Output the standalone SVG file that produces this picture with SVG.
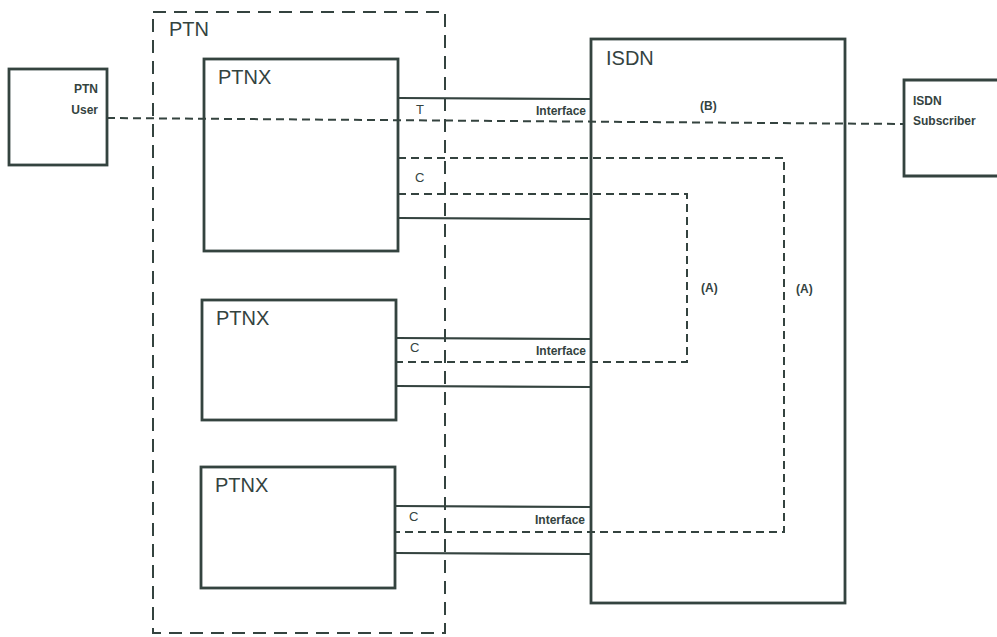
<svg xmlns="http://www.w3.org/2000/svg" width="997" height="637" viewBox="0 0 997 637">
<style>
.box{fill:none;stroke:#34433f;stroke-width:2.8}
.ln{fill:none;stroke:#34433f;stroke-width:2.2}
.dash{fill:none;stroke:#34433f;stroke-width:2;stroke-dasharray:8 5}
.bnd{fill:none;stroke:#34433f;stroke-width:2;stroke-dasharray:13 8}
text{font-family:"Liberation Sans",Arial,sans-serif;fill:#34433f}
.big{font-size:20px}
.sm{font-size:12px;font-weight:bold}
.lbl{font-size:13px}
</style>
<rect width="997" height="637" fill="#ffffff"/>
<g id="ptn">
<rect class="bnd" x="153" y="12" width="292" height="621"/>
<text class="big" x="169" y="36">PTN</text>
</g>
<g id="ptn-user">
<rect class="box" x="9" y="69" width="98" height="96"/>
<text class="sm" x="98" y="93" text-anchor="end">PTN</text>
<text class="sm" x="98" y="114" text-anchor="end">User</text>
</g>
<g id="ptnx1">
<rect class="box" x="204" y="59" width="194" height="192"/>
<text class="big" x="218" y="84">PTNX</text>
</g>
<g id="ptnx2">
<rect class="box" x="202" y="300" width="194" height="120"/>
<text class="big" x="216" y="325">PTNX</text>
</g>
<g id="ptnx3">
<rect class="box" x="201" y="467" width="194" height="121"/>
<text class="big" x="215" y="492">PTNX</text>
</g>
<g id="isdn">
<rect class="box" x="591" y="39" width="254" height="564"/>
<text class="big" x="606" y="65">ISDN</text>
</g>
<g id="isdn-subscriber">
<path class="box" d="M999 80 H904 V176 H999"/>
<text class="sm" x="913" y="105">ISDN</text>
<text class="sm" x="913" y="125">Subscriber</text>
</g>
<g id="connectors">
<line class="ln" x1="398" y1="98" x2="591" y2="99"/>
<line class="ln" x1="398" y1="218" x2="591" y2="219"/>
<line class="ln" x1="396" y1="338" x2="591" y2="339"/>
<line class="ln" x1="396" y1="386" x2="591" y2="387"/>
<line class="ln" x1="395" y1="506" x2="591" y2="507"/>
<line class="ln" x1="395" y1="553" x2="591" y2="554"/>
<path class="dash" d="M107 118 L904 124"/>
<path class="dash" d="M398 158 H784 V532 H396"/>
<path class="dash" d="M398 194 H687 V362 H396"/>
</g>
<g id="labels">
<text class="lbl" x="416" y="114">T</text>
<text class="sm" x="586" y="115" text-anchor="end">Interface</text>
<text class="lbl" x="415" y="182">C</text>
<text class="lbl" x="410" y="352">C</text>
<text class="sm" x="586" y="355" text-anchor="end">Interface</text>
<text class="lbl" x="409" y="521">C</text>
<text class="sm" x="585" y="524" text-anchor="end">Interface</text>
<text class="sm" x="700" y="110">(B)</text>
<text class="sm" x="701" y="292">(A)</text>
<text class="sm" x="796" y="293">(A)</text>
</g>
</svg>
